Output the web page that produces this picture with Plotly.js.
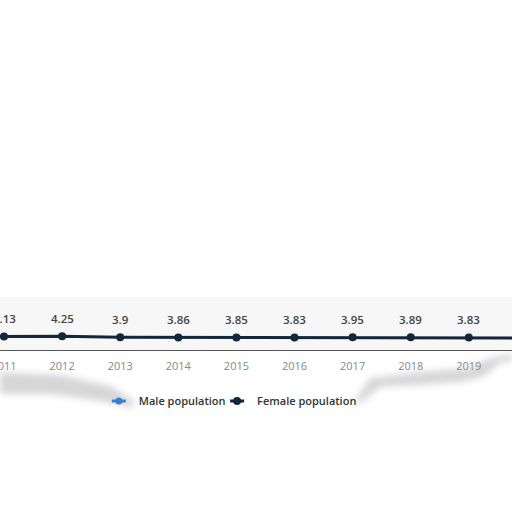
<!DOCTYPE html>
<html>
<head>
<meta charset="utf-8">
<script src="https://cdn.plot.ly/plotly-3.0.1.min.js"></script>
<style>html,body{margin:0;padding:0;background:#fff;}#chart{width:512px;height:512px;}</style>
</head>
<body>
<div id="chart"></div>
<script>
var years = [2010, 2011, 2012, 2013, 2014, 2015, 2016, 2017, 2018, 2019, 2020];
var femaleValues = [4.1, 4.13, 4.25, 3.9, 3.86, 3.85, 3.83, 3.95, 3.89, 3.83, 3.7];
var maleValues = [null, null, null, null, null, null, null, null, null, null, null];
var femaleLabels = femaleValues.map(function(v){ return String(v); });
var tickYears = [2010, 2011, 2012, 2013, 2014, 2015, 2016, 2017, 2018, 2019, 2020];

var male = {
  x: years, y: maleValues, name: 'Male population', type: 'scatter', mode: 'lines+markers',
  line: {color: '#3a7fd6', width: 3}, marker: {color: '#3a7fd6', size: 7}, legend: 'legend'
};
var female = {
  x: years, y: femaleValues, name: 'Female population', type: 'scatter', mode: 'lines+markers',
  line: {color: '#13263b', width: 3}, marker: {color: '#13263b', size: 8},
  cliponaxis: false, legend: 'legend2'
};

var labelAnnotations = years.map(function(yr, i){
  return {
    x: yr, y: femaleValues[i], xref: 'x', yref: 'y', text: femaleLabels[i],
    showarrow: false, yshift: 18, yanchor: 'middle', xanchor: 'center',
    font: {family: 'Open Sans, sans-serif', size: 11.5, color: '#444', weight: 600}
  };
});

// page pixel -> paper coordinates (plot area: x 0..512, y 297..350)
function px(x){ return x / 512; }
function py(y){ return (350 - y) / 53; }
function poly(pts){
  return 'M' + pts.map(function(p){ return px(p[0]).toFixed(4) + ',' + py(p[1]).toFixed(4); }).join(' L') + ' Z';
}
var shadowLeft = [[0,372],[60,375],[110,386],[136,402],[130,407],[100,401],[50,394],[0,394]];
var shadowRight = [[354,402],[370,378],[420,372],[470,368],[490,358],[512,354],[512,362],[500,362],[490,372],[480,378],[460,382],[420,385],[380,387],[362,402]];

var legendFont = {family: 'Open Sans, sans-serif', size: 11, color: '#333', weight: 600};

var layout = {
  width: 512, height: 512,
  margin: {l: 0, r: 0, t: 297, b: 162, pad: 0},
  paper_bgcolor: '#ffffff',
  plot_bgcolor: '#f7f7f7',
  showlegend: true,
  legend: {orientation: 'h', x: 0.193, xanchor: 'left', y: -0.96, yanchor: 'middle',
    font: legendFont, itemwidth: 30, bgcolor: 'rgba(0,0,0,0)'},
  legend2: {orientation: 'h', x: 0.424, xanchor: 'left', y: -0.96, yanchor: 'middle',
    font: legendFont, itemwidth: 30, bgcolor: 'rgba(0,0,0,0)'},
  xaxis: {
    range: [2010.931, 2019.743], tickvals: tickYears, ticktext: tickYears.map(String),
    showgrid: false, zeroline: false, showline: true, linecolor: '#555', linewidth: 1,
    ticks: 'outside', ticklen: 6, tickcolor: 'rgba(0,0,0,0)', ticklabeloverflow: 'allow',
    tickfont: {family: 'Open Sans, sans-serif', size: 11, color: '#888'},
    fixedrange: true
  },
  yaxis: {
    range: [0, 16.3], showgrid: false, zeroline: false, showticklabels: false, showline: false,
    fixedrange: true
  },
  annotations: labelAnnotations,
  shapes: [
    {type: 'line', xref: 'paper', yref: 'paper', x0: 0, x1: 1, y0: 1, y1: 1, line: {color: '#e2e2e2', width: 1}},
    {type: 'path', xref: 'paper', yref: 'paper', path: poly(shadowLeft), fillcolor: 'rgba(0,0,0,0.16)', line: {width: 0}, layer: 'below'},
    {type: 'path', xref: 'paper', yref: 'paper', path: poly(shadowRight), fillcolor: 'rgba(0,0,0,0.16)', line: {width: 0}, layer: 'below'}
  ]
};

Plotly.newPlot('chart', [male, female], layout, {staticPlot: true, displayModeBar: false}).then(function(gd){
  var svg = gd.querySelector('svg.main-svg');
  var ns = 'http://www.w3.org/2000/svg';
  var defs = svg.querySelector('defs') || svg.insertBefore(document.createElementNS(ns, 'defs'), svg.firstChild);
  var f = document.createElementNS(ns, 'filter');
  f.setAttribute('id', 'softshadow');
  f.setAttribute('x', '-20%'); f.setAttribute('y', '-50%');
  f.setAttribute('width', '140%'); f.setAttribute('height', '200%');
  var b = document.createElementNS(ns, 'feGaussianBlur');
  b.setAttribute('stdDeviation', '3.5');
  f.appendChild(b);
  defs.appendChild(f);
  gd.querySelectorAll('.shapelayer path').forEach(function(p){
    var fill = p.style.fill || p.getAttribute('fill');
    if (fill && fill !== 'none' && fill !== 'rgba(0, 0, 0, 0)') p.setAttribute('filter', 'url(#softshadow)');
  });
  gd.querySelectorAll('.legendlines path').forEach(function(p){
    p.setAttribute('d', 'M13,0h14');
  });
});
</script>
</body>
</html>
